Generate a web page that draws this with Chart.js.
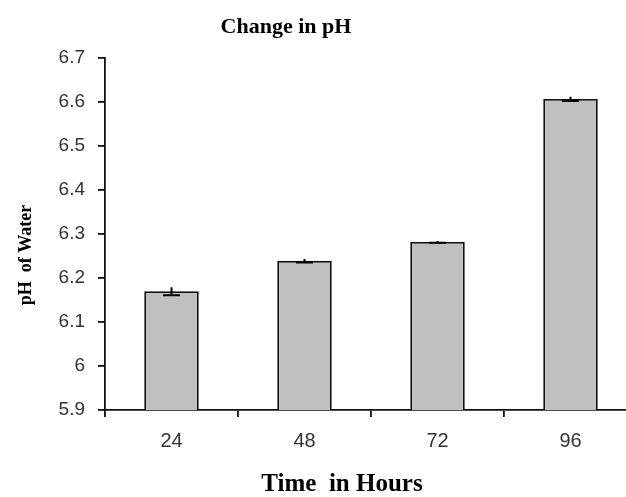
<!DOCTYPE html>
<html>
<head>
<meta charset="utf-8">
<script src="https://cdn.jsdelivr.net/npm/chart.js@4/dist/chart.umd.min.js"></script>
<style>
    html, body { margin: 0; padding: 0; background: #fff; overflow: hidden; }
    #wrap { width: 640px; height: 497px; }
</style>
</head>
<body>
<div id="wrap"><canvas id="grafico" width="640" height="497"></canvas></div>
<script>
const horas = ['24', '48', '72', '96'];
const phAgua = [6.17, 6.239, 6.282, 6.607];
const erroPh = [0.009, 0.004, 0.002, 0.005];
const ticksY = [5.9, 6, 6.1, 6.2, 6.3, 6.4, 6.5, 6.6, 6.7];

// titulos e barras de erro desenhados por cima
const titulosPlugin = {
    id: 'titulos',
    afterDatasetsDraw(chart) {
        const ctx = chart.ctx;
        const y = chart.scales.y;
        const meta = chart.getDatasetMeta(0);
        ctx.save();
        ctx.strokeStyle = '#000';
        ctx.lineWidth = 2;
        meta.data.forEach((bar, i) => {
            const topo = y.getPixelForValue(phAgua[i] + erroPh[i]);
            const base = y.getPixelForValue(phAgua[i] - erroPh[i]);
            ctx.beginPath();
            ctx.moveTo(bar.x, topo);
            ctx.lineTo(bar.x, base);
            ctx.moveTo(bar.x - 8.5, base);
            ctx.lineTo(bar.x + 8.5, base);
            ctx.stroke();
        });
        ctx.restore();
    },
    afterDraw(chart) {
        const ctx = chart.ctx;
        ctx.save();
        ctx.fillStyle = '#000';
        ctx.textAlign = 'center';
        ctx.textBaseline = 'middle';
        ctx.font = 'bold 22px "Liberation Serif"';
        ctx.fillText('Change in pH', 286, 27);
        ctx.font = 'bold 25px "Liberation Serif"';
        ctx.fillText('Time  in Hours', 342, 485);
        ctx.translate(26, 255);
        ctx.rotate(-Math.PI / 2);
        ctx.font = 'bold 18px "Liberation Serif"';
        ctx.fillText('pH  of Water', 0, 0);
        ctx.restore();
    }
};

const ctxGrafico = document.getElementById('grafico').getContext('2d');

new Chart(ctxGrafico, {
    type: 'bar',
    data: {
        labels: horas,
        datasets: [{
            data: phAgua,
            backgroundColor: '#c0c0c0',
            borderColor: '#111',
            borderWidth: 1.8,
            borderSkipped: false,
            barPercentage: 0.41,
            categoryPercentage: 1
        }]
    },
    options: {
        responsive: false,
        animation: false,
        layout: {
            padding: { left: 0, top: 58, right: 3, bottom: 0 }
        },
        plugins: {
            legend: { display: false },
            tooltip: { enabled: false }
        },
        scales: {
            x: {
                offset: true,
                grid: {
                    offset: true,
                    drawOnChartArea: false,
                    drawTicks: true,
                    tickLength: 7,
                    color: '#111',
                    lineWidth: 1.8
                },
                border: { color: '#111', width: 1.8 },
                ticks: {
                    color: '#333',
                    padding: 12,
                    font: { family: '"Liberation Sans"', size: 20 }
                },
                afterFit(scale) { scale.height = 87; }
            },
            y: {
                min: 5.9,
                max: 6.7,
                afterBuildTicks(scale) {
                    scale.ticks = ticksY.map(v => ({ value: v }));
                },
                grid: {
                    drawOnChartArea: false,
                    drawTicks: true,
                    tickLength: 7,
                    color: '#111',
                    lineWidth: 1.8
                },
                border: { color: '#111', width: 1.8 },
                ticks: {
                    color: '#333',
                    padding: 13,
                    font: { family: '"Liberation Sans"', size: 19 },
                    callback: (v) => String(Number(v.toFixed(1)))
                },
                afterFit(scale) { scale.width = 105; }
            }
        }
    },
    plugins: [titulosPlugin]
});
</script>
</body>
</html>
